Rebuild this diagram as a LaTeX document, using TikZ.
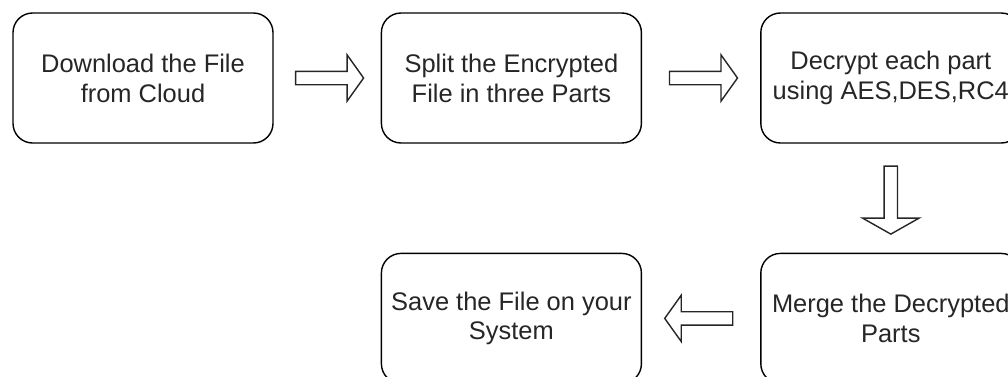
\documentclass[tikz,border=0pt]{standalone}
\usepackage{fontspec}
\setmainfont{Liberation Sans}
\usepackage{tikz}
\usetikzlibrary{positioning,shapes.arrows}

\begin{document}
\begin{tikzpicture}
  [
    stepbox/.style={rectangle,rounded corners=0.49cm,draw=black,line width=1pt,
      minimum width=6.5cm,minimum height=3.25cm,align=center,
      font=\fontsize{18.1pt}{21.3pt}\selectfont,text=black!85},
    fatarrow/.style={single arrow,draw=black!85,line width=1pt,fill=white,
      minimum height=1.7cm,inner sep=0.15cm,
      single arrow head extend=0.41cm,single arrow tip angle=109}
  ]
  \useasboundingbox (0,0) rectangle (25.2,-9.4);
  \node[stepbox] (download) at (3.575,-1.95) {Download the File\\from Cloud};
  \node[stepbox] (split) [right = 2.675cm of download] {Split the Encrypted\\File in three Parts};
  \node[stepbox] (decrypt) [right = 2.95cm of split] {Decrypt each part\\using AES,DES,RC4};
  \node[stepbox] (merge) [below = 2.725cm of decrypt] {Merge the Decrypted\\Parts};
  \node[stepbox] (save) [left = 2.95cm of merge] {Save the File on your\\System};
  \path (download) -- node[fatarrow] (arrow download) {} (split);
  \path (split) -- node[fatarrow] (arrow split) {} (decrypt);
  \path (decrypt) -- node[fatarrow,shape border rotate=270,
    single arrow head extend=0.54cm,single arrow tip angle=121] (arrow decrypt) {} (merge);
  \path (merge) -- node[fatarrow,shape border rotate=180] (arrow merge) {} (save);
\end{tikzpicture}
\end{document}
